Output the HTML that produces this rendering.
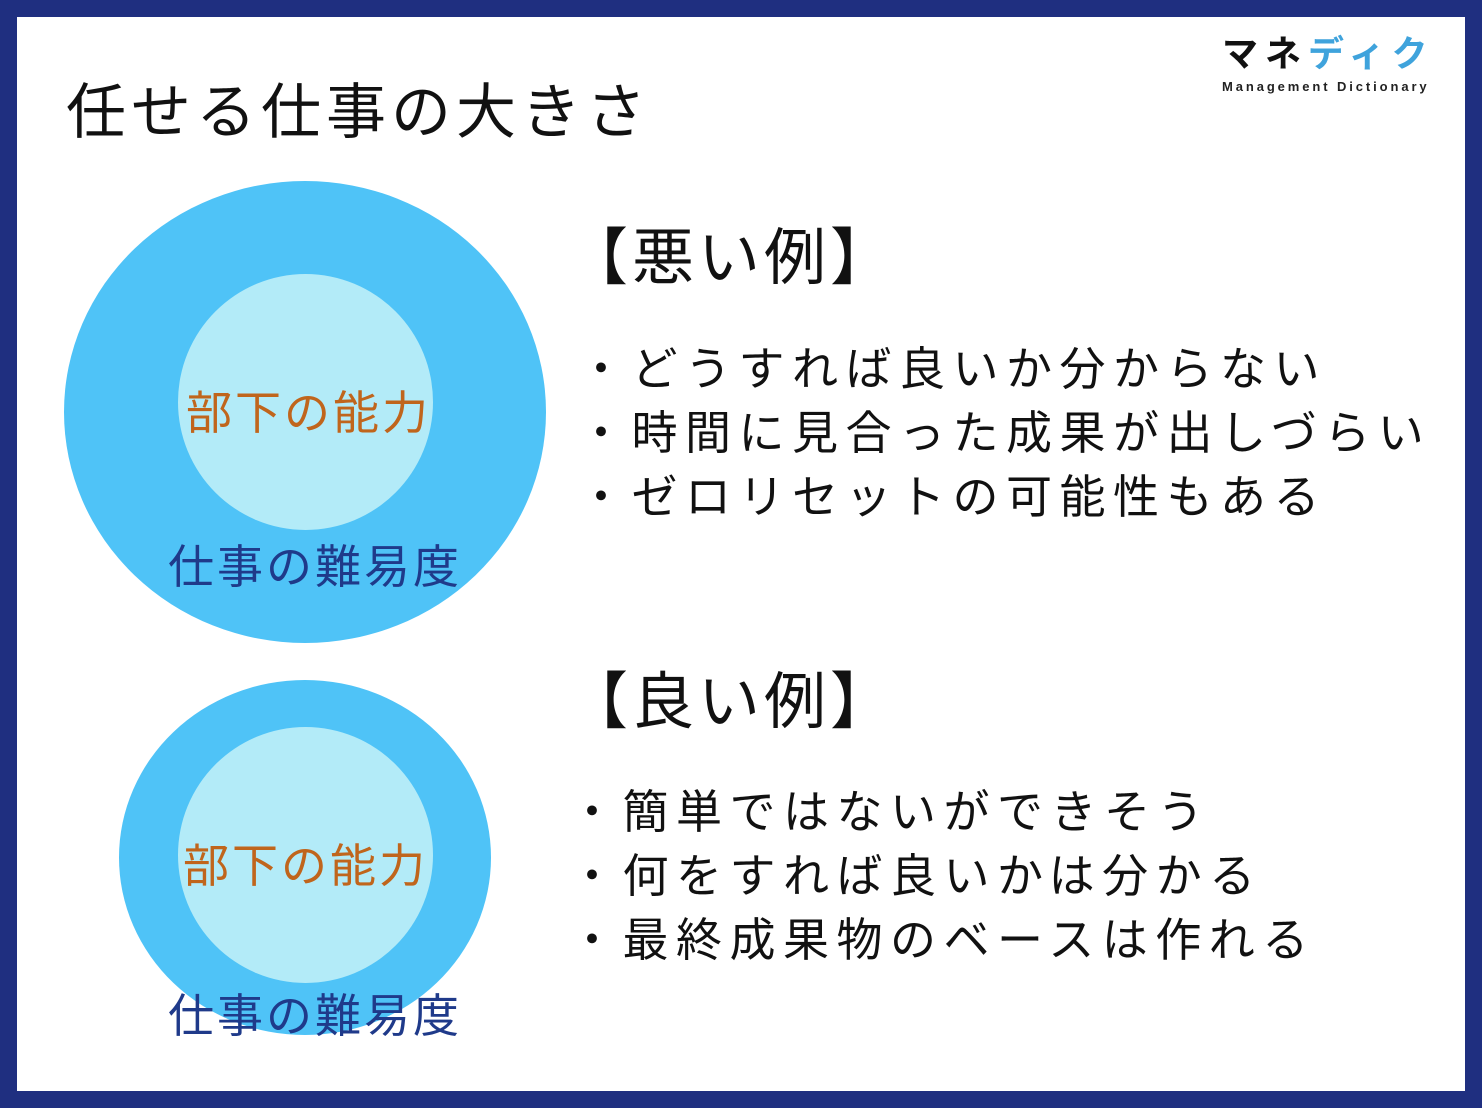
<!DOCTYPE html>
<html><head><meta charset="utf-8"><style>
body{margin:0;width:1482px;height:1108px;background:#1f2f80;position:relative;overflow:hidden;font-family:"Liberation Sans","Noto Sans CJK JP",sans-serif}
.in{position:absolute;left:17px;top:17px;width:1448px;height:1074px;background:#fff}
.t{position:absolute;white-space:nowrap;line-height:1}
.c{position:absolute;border-radius:50%}
</style></head><body>
<div class="in"></div>
<div class="t" style="left:66px;top:83px;font-size:60px;letter-spacing:5px;color:#111">任せる仕事の大きさ</div>
<div class="t" style="left:1222px;top:36px;font-size:36px;font-weight:bold;letter-spacing:7px;color:#111">マネ<span style="color:#3fa3dc">ディク</span></div>
<div class="t" style="left:1222px;top:80px;font-size:13px;font-weight:bold;letter-spacing:2.9px;color:#222">Management Dictionary</div>

<div class="c" style="left:64px;top:181px;width:482px;height:462px;background:#4fc3f7"></div>
<div class="c" style="left:178px;top:274px;width:255px;height:256px;background:#b3ebf8"></div>
<div class="t" style="left:186px;top:390px;font-size:46px;letter-spacing:3px;color:#c0651c">部下の能力</div>
<div class="t" style="left:168px;top:544px;font-size:46px;letter-spacing:3px;color:#1f3a8a">仕事の難易度</div>

<div class="c" style="left:119px;top:680px;width:372px;height:355px;background:#4fc3f7"></div>
<div class="c" style="left:178px;top:727px;width:255px;height:256px;background:#b3ebf8"></div>
<div class="t" style="left:183px;top:843px;font-size:46px;letter-spacing:3px;color:#c0651c">部下の能力</div>
<div class="t" style="left:168px;top:993px;font-size:46px;letter-spacing:3px;color:#1f3a8a">仕事の難易度</div>

<div class="t" style="left:566px;top:228px;font-size:62px;letter-spacing:4px;color:#111">【悪い例】</div>
<div class="t" style="left:578px;top:337px;font-size:46px;letter-spacing:7.5px;line-height:64px;color:#111">・どうすれば良いか分からない<br>・時間に見合った成果が出しづらい<br>・ゼロリセットの可能性もある</div>
<div class="t" style="left:566px;top:672px;font-size:62px;letter-spacing:4px;color:#111">【良い例】</div>
<div class="t" style="left:569px;top:780px;font-size:46px;letter-spacing:7.5px;line-height:64px;color:#111">・簡単ではないができそう<br>・何をすれば良いかは分かる<br>・最終成果物のベースは作れる</div>
</body></html>
